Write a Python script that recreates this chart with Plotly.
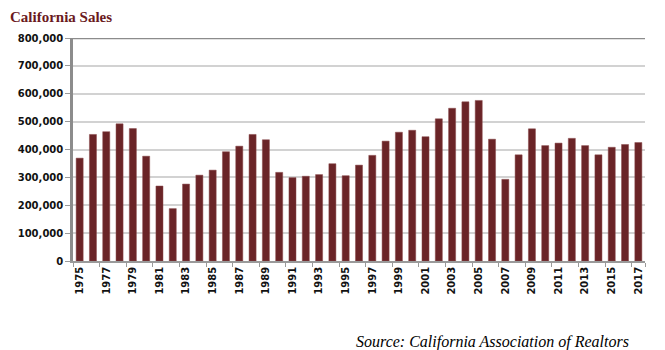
import plotly.graph_objects as go

years = [str(y) for y in range(1975, 2018)]
sales = [369000, 454000, 464000, 492000, 475000, 376000, 269000, 188000, 276000, 308000,
         326000, 392000, 412000, 454000, 435000, 318000, 299000, 304000, 310000, 349000,
         306000, 344000, 379000, 430000, 462000, 469000, 446000, 510000, 548000, 571000,
         576000, 437000, 293000, 381000, 474000, 414000, 423000, 440000, 414000, 381000,
         408000, 418000, 425000]
tick_years = years[::2]
y_ticks = list(range(0, 800001, 100000))

title_text = "California Sales"
source_text = "Source: California Association of Realtors"

fig = go.Figure()
fig.add_trace(go.Bar(
    x=years, y=sales,
    marker=dict(color="#6A2427", line=dict(color="#8a4a4c", width=0.5)),
))

fig.update_layout(
    width=665, height=350,
    margin=dict(l=73, r=20, t=38, b=89),
    paper_bgcolor="white", plot_bgcolor="white",
    bargap=0.47,
    showlegend=False,
    font=dict(family="DejaVu Sans", size=10, color="#000000"),
)
fig.update_xaxes(
    type="category",
    tickmode="array", tickvals=tick_years, ticktext=tick_years,
    tickangle=-90,
    tickfont=dict(family="DejaVu Sans", size=10, color="#111111", weight="bold"),
    showline=True, linecolor="#9a9a9a", linewidth=1.5,
    ticks="outside", ticklen=4, tickcolor="#9a9a9a", tickwidth=1,
    tickson="boundaries",
    showgrid=False,
)
fig.update_yaxes(
    range=[0, 800000],
    tickmode="array", tickvals=y_ticks,
    ticktext=[f"{v:,}" for v in y_ticks],
    tickfont=dict(family="DejaVu Sans", size=10, color="#111111", weight="bold"),
    showline=True, linecolor="#8c8c8c", linewidth=2.5,
    ticks="outside", ticklen=5, tickcolor="#9a9a9a", tickwidth=1,
    showgrid=True, gridcolor="#d2d2d2", gridwidth=1.5,
    zeroline=False,
)
fig.add_shape(type="line", xref="paper", yref="y", x0=0, x1=1,
              y0=y_ticks[-1], y1=y_ticks[-1], line=dict(color="#8c8c8c", width=2.5))

fig.add_annotation(text=title_text, xref="paper", yref="paper",
                   x=-0.114, y=1.0, yshift=21, xanchor="left", yanchor="middle",
                   showarrow=False,
                   font=dict(family="Liberation Serif", size=15,
                             color="#6B1A1E", weight="bold"))
fig.add_annotation(text=source_text, xref="paper", yref="paper",
                   x=1.0, y=0, xanchor="right", yanchor="middle", yshift=-81, xshift=-14,
                   showarrow=False,
                   font=dict(family="Times New Roman", size=16,
                             color="#000000", style="italic"))

fig.write_html("out.html")
